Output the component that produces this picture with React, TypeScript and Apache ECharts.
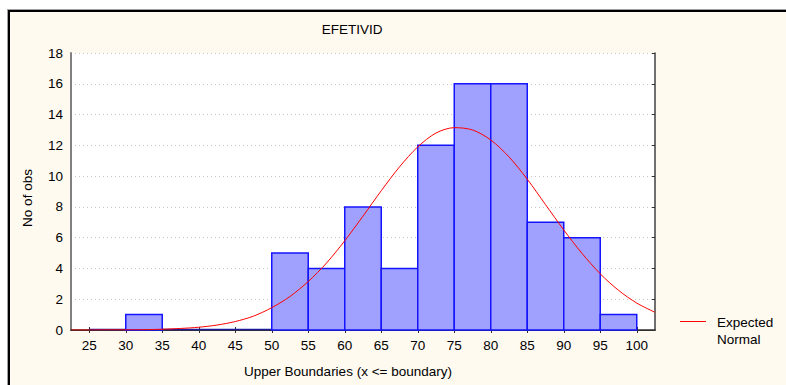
import React, { useEffect, useRef } from "react";
import * as echarts from "echarts";

// Histogram bins: upper boundary of each 5-wide bin and observed count
const upperBoundaries = [30, 35, 40, 45, 50, 55, 60, 65, 70, 75, 80, 85, 90, 95, 100];
const counts = [0, 1, 0, 0, 0, 5, 4, 8, 4, 12, 16, 16, 7, 6, 1];
const binWidth = 5;

// X axis tick labels
const xTickLabels = [25, 30, 35, 40, 45, 50, 55, 60, 65, 70, 75, 80, 85, 90, 95, 100];

// Expected normal curve
const curveX = [22.5, 25, 27.5, 30, 32.5, 35, 37.5, 40, 42.5, 45, 47.5, 50, 52.5, 55, 57.5, 60, 62.5, 65, 67.5, 70, 72.5, 75, 77.5, 80, 82.5, 85, 87.5, 90, 92.5, 95, 97.5, 100, 102.5];
const curveY = [0.0, 0.0, 0.01, 0.01, 0.02, 0.05, 0.1, 0.18, 0.32, 0.55, 0.9, 1.45, 2.18, 3.15, 4.35, 5.8, 7.4, 9.05, 10.6, 11.9, 12.8, 13.15, 13.0, 12.35, 11.25, 9.8, 8.15, 6.5, 4.98, 3.65, 2.58, 1.75, 1.15];

const FONT = "'Liberation Sans', Arial, sans-serif";
const FS = 13.5;

export default function App() {
  const ref = useRef<HTMLDivElement>(null);

  useEffect(() => {
    if (!ref.current) return;
    const chart = echarts.init(ref.current, undefined, { renderer: "svg" });

    const barData = upperBoundaries.map((u, i) => [u, counts[i]]);
    const lineData = curveX.map((x, i) => [x, curveY[i]]);

    const option: any = {
      animation: false,
      backgroundColor: "transparent",
      textStyle: { fontFamily: FONT },
      grid: { left: 71, right: 131, top: 53, bottom: 55, show: true, backgroundColor: "#ffffff", borderWidth: 0 },
      xAxis: [
        {
          type: "value",
          min: 22.5,
          max: 102.5,
          position: "bottom",
          axisLine: { show: true, onZero: false, lineStyle: { color: "#303030", width: 1.5 } },
          axisTick: { show: true, inside: true, length: 3, customValues: xTickLabels, lineStyle: { color: "#303030" } },
          axisLabel: { show: true, customValues: xTickLabels, color: "#000", fontSize: FS, fontFamily: FONT, margin: 8 },
          splitLine: { show: false },
        },
        {
          type: "value",
          min: 22.5,
          max: 102.5,
          position: "top",
          axisLine: { show: true, lineStyle: { color: "#303030", width: 1 } },
          axisTick: { show: true, inside: true, length: 3, customValues: xTickLabels, lineStyle: { color: "#303030" } },
          axisLabel: { show: false },
          splitLine: { show: false },
        },
      ],
      yAxis: [
        {
          type: "value",
          min: 0,
          max: 18,
          interval: 2,
          position: "left",
          axisLine: { show: true, lineStyle: { color: "#808080", width: 2 } },
          axisTick: { show: false },
          axisLabel: { color: "#000", fontSize: FS, fontFamily: FONT, margin: 8 },
          splitLine: { show: true, lineStyle: { color: "#c8c8c8", type: [1, 3], width: 1 } },
        },
        {
          type: "value",
          min: 0,
          max: 18,
          interval: 2,
          position: "right",
          axisLine: { show: true, lineStyle: { color: "#404040", width: 1.5 } },
          axisTick: { show: true, inside: true, length: 3, lineStyle: { color: "#303030" } },
          axisLabel: { show: false },
          splitLine: { show: false },
        },
      ],
      series: [
        {
          type: "custom",
          xAxisIndex: 0,
          yAxisIndex: 0,
          data: barData,
          encode: { x: 0, y: 1 },
          z: 2,
          renderItem: (params: any, api: any) => {
            const hi = api.value(0);
            const v = api.value(1);
            const p0 = api.coord([hi - binWidth, 0]);
            const p1 = api.coord([hi, v]);
            if (v === 0) {
              return {
                type: "line",
                shape: { x1: p0[0], y1: p0[1] - 0.5, x2: p1[0], y2: p0[1] - 0.5 },
                style: { stroke: "#1a1a9a", lineWidth: 1.5 },
              };
            }
            return {
              type: "rect",
              shape: { x: p0[0], y: p1[1], width: p1[0] - p0[0], height: p0[1] - p1[1] },
              style: { fill: "#a0a0ff", stroke: "#1414ff", lineWidth: 1.5 },
            };
          },
        },
        {
          type: "line",
          name: "Expected Normal",
          xAxisIndex: 0,
          yAxisIndex: 0,
          data: lineData,
          smooth: 0.3,
          symbol: "none",
          z: 3,
          lineStyle: { color: "#ff0000", width: 1 },
        },
      ],
      graphic: [
        {
          type: "text",
          x: 352,
          y: 29,
          style: { text: "EFETIVID", fontSize: FS, fontFamily: FONT, fill: "#000", align: "center", verticalAlign: "middle" },
        },
        {
          type: "text",
          x: 348,
          y: 371,
          style: { text: "Upper Boundaries (x <= boundary)", fontSize: FS, fontFamily: FONT, fill: "#000", align: "center", verticalAlign: "middle" },
        },
        {
          type: "text",
          x: 27,
          y: 198,
          rotation: Math.PI / 2,
          style: { text: "No of obs", fontSize: FS, fontFamily: FONT, fill: "#000", align: "center", verticalAlign: "middle" },
        },
        {
          type: "line",
          shape: { x1: 680, y1: 321.5, x2: 706, y2: 321.5 },
          style: { stroke: "#ff0000", lineWidth: 1 },
        },
        {
          type: "text",
          x: 717,
          y: 322.5,
          style: { text: "Expected", fontSize: FS, fontFamily: FONT, fill: "#000", align: "left", verticalAlign: "middle" },
        },
        {
          type: "text",
          x: 717,
          y: 339,
          style: { text: "Normal", fontSize: FS, fontFamily: FONT, fill: "#000", align: "left", verticalAlign: "middle" },
        },
      ],
    };

    chart.setOption(option);
    return () => chart.dispose();
  }, []);

  return (
    <div style={{ position: "fixed", left: 0, top: 0, width: 786, height: 385, background: "#ffffff", overflow: "hidden" }}>
      <div
        style={{
          position: "absolute",
          left: 8,
          top: 10,
          width: 800,
          height: 400,
          background: "#fffaf0",
          borderLeft: "2px solid #000",
          borderTop: "2px solid #000",
          boxShadow: "-1px -1px 0 #a0a0a0",
        }}
      />
      <div ref={ref} style={{ position: "absolute", left: 0, top: 0, width: 786, height: 385 }} />
    </div>
  );
}
